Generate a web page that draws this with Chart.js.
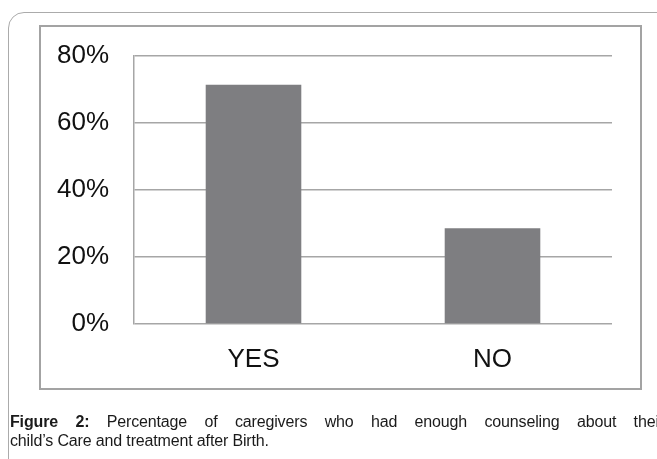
<!DOCTYPE html>
<html>
<head>
<meta charset="utf-8">
<script src="https://cdn.jsdelivr.net/npm/chart.js@4.4.1/dist/chart.umd.min.js"></script>
<style>
    html, body { margin: 0; padding: 0; background: #fff; }
    body { width: 657px; height: 459px; position: relative; overflow: hidden; font-family: "Liberation Sans", Arial, sans-serif; }
    #frame { position: absolute; left: 8px; top: 12px; width: 720px; height: 520px; border: 1.5px solid #ababab; border-radius: 16px; box-sizing: border-box; }
    #box { position: absolute; left: 39px; top: 25px; width: 603px; height: 365px; border: 2px solid #a3a3a3; box-sizing: border-box; }
    #chartWrap { position: absolute; left: 0; top: 0; width: 657px; height: 459px; }
    .cap { position: absolute; left: 10px; font-size: 16px; line-height: 19px; color: #1a1a1a; white-space: nowrap; letter-spacing: -0.15px; }
    #cap1 { top: 412px; width: 654px; text-align: justify; text-align-last: justify; white-space: normal; }
    #cap2 { top: 431px; }
</style>
</head>
<body>
<div id="frame"></div>
<div id="box"></div>
<div id="chartWrap"><canvas id="chart" width="657" height="459"></canvas></div>
<div class="cap" id="cap1"><b>Figure 2:</b> Percentage of caregivers who had enough counseling about their</div>
<div class="cap" id="cap2">child’s Care and treatment after Birth.</div>

<script>
// Chart data
const categories = ['YES', 'NO'];
const percentages = [71.4, 28.6];
const tickValues = [0, 20, 40, 60, 80];

document.addEventListener('DOMContentLoaded', () => {
    setupChart();
});

function setupChart() {
    const ctx = document.getElementById('chart').getContext('2d');

    new Chart(ctx, {
        type: 'bar',
        data: {
            labels: categories,
            datasets: [
                {
                    data: percentages,
                    backgroundColor: '#7e7e81',
                    borderWidth: 0,
                    categoryPercentage: 1,
                    barPercentage: 0.4
                }
            ]
        },
        options: {
            responsive: false,
            animation: false,
            layout: {
                padding: { left: 0, top: 56, right: 45, bottom: 0 }
            },
            plugins: {
                legend: { display: false },
                tooltip: { enabled: false }
            },
            scales: {
                x: {
                    grid: { display: false },
                    border: { display: false },
                    ticks: {
                        color: '#111',
                        padding: 12,
                        font: { family: '"Liberation Sans", Arial', size: 26 }
                    },
                    afterFit: scale => { scale.height = 135; }
                },
                y: {
                    min: 0,
                    max: 80,
                    afterBuildTicks: scale => {
                        scale.ticks = tickValues.map(v => ({ value: v }));
                    },
                    grid: {
                        color: '#a6a6a6',
                        lineWidth: 1.5,
                        drawTicks: false
                    },
                    border: { display: true, color: '#a6a6a6', width: 1.5 },
                    ticks: {
                        color: '#111',
                        padding: 25,
                        font: { family: '"Liberation Sans", Arial', size: 26 },
                        callback: value => value + '%'
                    },
                    afterFit: scale => { scale.width = 134; }
                }
            }
        }
    });
}
</script>
</body>
</html>
